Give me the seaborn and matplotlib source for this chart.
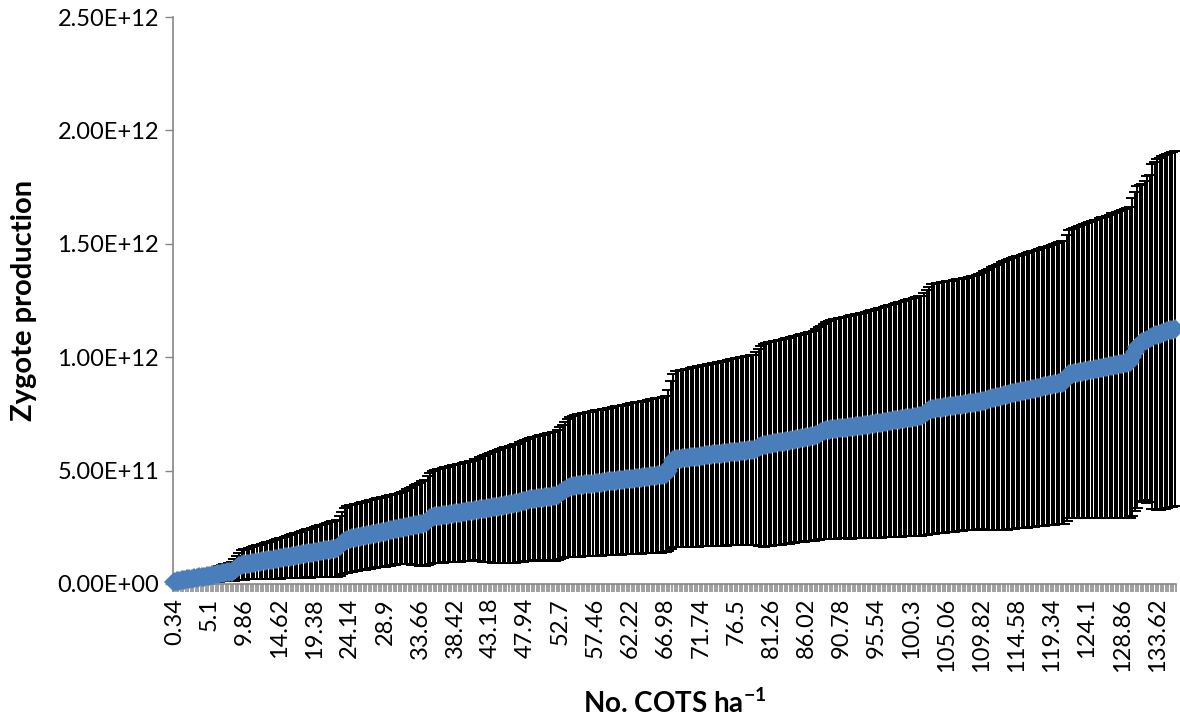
import numpy as np
import pandas as pd
import matplotlib
matplotlib.use("Agg")
import matplotlib.pyplot as plt
import seaborn as sns

# Mean zygote production for each density class (units of 1e9 zygotes)
mean_1e9 = [
    10, 12, 14, 16, 18, 20, 22, 24, 26, 28, 29, 31, 33, 35, 37, 39, 41, 43, 45, 47, 49, 51, 53, 55,
    62, 70, 78, 84,
    86, 88, 90, 92, 94, 96, 98, 100, 102, 104, 105, 107, 109, 111, 113, 115, 117, 119, 121, 123,
    125, 127, 129, 131, 133, 135, 136, 138, 140, 142, 144, 146, 148, 150, 152, 154, 156, 158,
    168, 180, 190, 196, 200, 202, 204,
    206, 209, 211, 213, 215, 218, 220, 222, 225, 227, 229, 231, 234, 236, 238, 241, 243, 245,
    247, 250, 252, 254, 256, 259, 261, 263, 266, 268,
    278, 290, 296, 298,
    300, 301, 303, 305, 306, 308, 310, 312, 313, 315, 317, 319, 320, 322, 324, 326, 327, 329,
    331, 332, 334, 336, 338, 339, 341, 343,
    345, 347, 349, 351, 353, 355, 357, 360, 364, 368, 371, 373, 375, 376, 378, 379, 381, 382,
    384, 385, 386, 387,
    392, 400, 408, 416, 423, 428, 431, 433, 435,
    436, 438, 439, 441, 442, 443, 445, 446, 447, 449, 450, 452, 453, 454, 456, 457, 458, 460,
    461, 462, 464, 465, 467, 468, 469, 471, 472, 473, 475, 476, 477, 479, 480, 482, 483,
    500, 525, 545, 550,
    551, 553, 554, 556, 557, 558, 560, 561, 562, 564, 565, 567, 568, 569, 571, 572, 573, 575,
    576, 577, 579, 580, 581, 583, 584, 585, 587, 588, 590, 591, 592,
    597, 603, 608, 612,
    614, 616, 618, 620, 622, 624, 626, 628, 630, 632, 635, 637, 639, 641, 643, 645, 647, 649,
    651, 653,
    658, 663, 668, 673, 677, 680, 683,
    684, 685, 687, 688, 689, 690, 691, 692, 694, 695, 696, 697,
    699, 701, 703, 704, 706, 708, 710, 712, 714, 716, 718, 719, 721, 723, 725, 727, 729, 731,
    733, 734, 736, 738, 740, 742,
    750, 758, 765, 771,
    773, 774, 776, 778, 779, 781, 783, 784, 786, 788, 789, 791, 793, 794, 796, 798, 799, 801,
    804, 807, 809, 812, 815, 818, 821, 824, 826, 829, 832, 835,
    837, 840, 842, 845, 847, 849, 852, 854, 857, 859, 861, 864, 866, 869, 871, 873, 876, 878,
    881, 883, 885, 888, 890,
    908, 925,
    927, 929, 932, 934, 936, 938, 940, 943, 945, 947, 949, 952, 954, 956, 958, 960, 963, 965,
    967, 969, 971, 974, 976, 978,
    1000, 1025, 1045, 1060,
    1066, 1072, 1078, 1084, 1090, 1096,
    1100, 1104, 1108, 1111, 1115, 1119, 1122, 1126,
]

# Error bar half-widths (units of 1e9 zygotes)
err_1e9 = [
    8, 9, 11, 12, 14, 15, 17, 18, 20, 21, 22, 23, 25, 26, 28, 29, 31, 32, 34, 35, 37, 38, 40, 41,
    48, 54, 60, 65,
    67, 68, 70, 71, 73, 75, 76, 78, 79, 81, 82, 84, 86, 87, 89, 90, 92, 93, 95, 97,
    98, 100, 101, 103, 104, 106, 108, 109, 111, 112, 114, 116, 117, 119, 120, 122, 123, 125,
    131, 138, 143, 146, 147, 148, 148,
    148, 149, 149, 150, 150, 151, 151, 152, 152, 153, 153, 154, 154, 155, 155, 156, 156, 157,
    157, 161, 165, 168, 172, 176, 179, 183, 186, 190,
    196, 201, 204, 206,
    207, 208, 209, 210, 211, 212, 213, 214, 215, 216, 217, 218, 218, 219, 220, 223, 226, 229,
    232, 235, 238, 241, 244, 246, 249, 252,
    253, 255, 256, 258, 259, 261, 262, 264, 265, 267, 268, 270, 271, 273, 274, 276, 277, 279,
    280, 282, 283, 285,
    288, 291, 295, 299, 303, 307, 310, 312, 314,
    315, 316, 317, 317, 318, 319, 320, 321, 322, 323, 323, 324, 325, 326, 327, 328, 329, 329,
    330, 331, 332, 333, 334, 335, 335, 336, 337, 338, 339, 340, 341, 341, 342, 343, 344,
    355, 370, 382, 388,
    389, 390, 391, 392, 393, 394, 395, 396, 397, 398, 399, 400, 401, 402, 403, 404, 405, 406,
    407, 408, 409, 410, 411, 412, 413, 414, 415, 416, 417, 418, 419,
    426, 434, 441, 447,
    448, 449, 449, 450, 451, 451, 452, 453, 454, 454, 455, 456, 456, 457, 458, 459, 459, 460,
    461, 462,
    465, 468, 471, 474, 477, 480, 483,
    484, 485, 486, 487, 488, 489, 491, 492, 493, 494, 495, 496,
    497, 499, 500, 502, 503, 504, 506, 507, 508, 510, 511, 513, 514, 515, 517, 518, 519, 521,
    522, 524, 525, 526, 528, 529,
    535, 540, 545, 550,
    551, 551, 552, 552, 553, 553, 554, 554, 555, 555, 556, 556, 557, 557, 558, 558, 559, 560,
    563, 566, 569, 572, 575, 578, 581, 584, 587, 589, 592, 595,
    596, 598, 599, 600, 601, 603, 604, 605, 606, 608, 609, 610, 611, 613, 614, 615, 616, 618,
    619, 620, 621, 623, 624,
    630, 636,
    638, 640, 642, 644, 646, 648, 650, 652, 654, 656, 658, 660, 662, 664, 666, 668, 671, 673,
    675, 677, 679, 681, 683, 685,
    700, 705, 709, 700,
    699, 703, 720, 721, 760, 764,
    775, 776, 777, 779, 780, 781, 783, 784,
]

# Density classes (COTS per hectare) in steps of 0.34
density_step = 0.34
density = np.round(density_step * np.arange(1, len(mean_1e9) + 1), 2)

x_tick_labels = [
    "0.34", "5.1", "9.86", "14.62", "19.38", "24.14", "28.9", "33.66", "38.42", "43.18",
    "47.94", "52.7", "57.46", "62.22", "66.98", "71.74", "76.5", "81.26", "86.02", "90.78",
    "95.54", "100.3", "105.06", "109.82", "114.58", "119.34", "124.1", "128.86", "133.62",
]
y_ticks = [0.0, 5e11, 1e12, 1.5e12, 2e12, 2.5e12]

sns.set_theme(style="white")
plt.rcParams["font.family"] = ["Lato", "DejaVu Sans"]
plt.rcParams["mathtext.fontset"] = "custom"
plt.rcParams["mathtext.rm"] = "Lato"
plt.rcParams["mathtext.bf"] = "Lato:bold"
plt.rcParams["mathtext.default"] = "bf"
for key in ["text.color", "axes.labelcolor", "xtick.labelcolor", "ytick.labelcolor"]:
    plt.rcParams[key] = "black"

n = len(mean_1e9)
df = pd.DataFrame({
    "pos": np.arange(n),
    "density": density,
    "mean": np.array(mean_1e9, dtype=float) * 1e9,
    "err": np.array(err_1e9, dtype=float) * 1e9,
})

W, H = 1180, 719
fig = plt.figure(figsize=(W / 100, H / 100), dpi=100)
ax = fig.add_axes([173 / W, 1 - 584 / H, (1176 - 173) / W, (584 - 17) / H])

axis_grey = "#868686"

ax.errorbar(df["pos"], df["mean"], yerr=df["err"], fmt="none", ecolor="black",
            elinewidth=1.45, capsize=4, capthick=1.4, zorder=2, clip_on=False)
sns.lineplot(data=df, x="pos", y="mean", ax=ax, color="#4A7EBB", linewidth=4.5,
             marker="D", markersize=10, markeredgewidth=0, zorder=3,
             clip_on=False, legend=False)

ax.set_xlim(-0.5, n - 0.5)
ax.set_ylim(0, 2.5e12)
ax.set_yticks(y_ticks)
ax.set_yticklabels([f"{v:.2E}" for v in y_ticks])

tick_pos = [int(np.argmin(np.abs(density - float(t)))) for t in x_tick_labels]
ax.set_xticks(tick_pos)
ax.set_xticklabels(x_tick_labels, rotation=90)
ax.set_xticks(np.arange(n + 1) - 0.5, minor=True)

ax.tick_params(axis="x", which="major", length=0, pad=10, labelsize=17)
ax.tick_params(axis="x", which="minor", length=6, width=1.1, color=axis_grey,
               direction="out", bottom=True)
ax.tick_params(axis="y", which="major", length=6, width=1, color=axis_grey,
               direction="out", left=True, labelsize=17, pad=4)

for side in ["top", "right"]:
    ax.spines[side].set_visible(False)
for side in ["left", "bottom"]:
    ax.spines[side].set_color(axis_grey)
    ax.spines[side].set_linewidth(1.2)

ax.set_xlabel("No. COTS ha$^{-1}$", fontweight="bold", fontsize=20)
ax.set_ylabel("Zygote production", fontweight="bold", fontsize=21)
ax.xaxis.set_label_coords(0.5, -0.185)
ax.yaxis.set_label_coords(-0.1356, 0.5)

fig.savefig("out.png", dpi=100)
